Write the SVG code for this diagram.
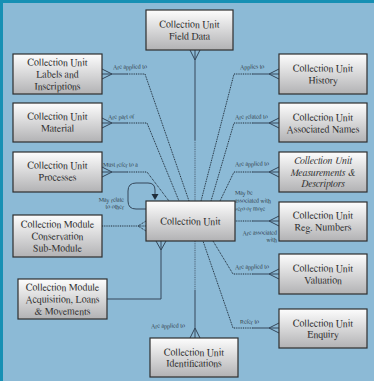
<svg xmlns="http://www.w3.org/2000/svg" width="374" height="381" viewBox="0 0 374 381">
  <defs>
    <linearGradient id="boxFill" x1="0" y1="0" x2="0" y2="1">
      <stop offset="0" stop-color="#fdfdfd"/>
      <stop offset="1" stop-color="#b2b2b4"/>
    </linearGradient>
    <style>
      text { font-family: FreeSerif, "Liberation Serif", "DejaVu Serif", serif; }
      .box { fill: url(#boxFill); stroke: #2e2e2e; stroke-width: 1.2; }
      .lbl { font-size: 10px; fill: #333; text-anchor: middle; }
      .it { font-style: italic; }
      .rel { font-size: 6px; fill: #2c3a48; }
      .solid { fill: none; stroke: #34475a; stroke-width: 1; }
      .dot { fill: none; stroke: #1f2d3a; stroke-width: 1; stroke-dasharray: 1 0.8; }
      .dotl { fill: none; stroke: #4a5f72; stroke-width: 1; stroke-dasharray: 1 0.8; }
    </style>
  </defs>

  <!-- frame -->
  <rect x="0" y="0" width="374" height="381" fill="#1690b4"/>
  <rect x="3" y="3" width="371" height="378" fill="#8cbad6"/>

  <!-- connectors -->
  <g id="connectors">
    <!-- Field Data to Collection Unit -->
    <path class="solid" d="M195,50 V140"/>
    <path class="dotl" d="M195,140 V201"/>
    <path class="solid" d="M190,50 L195,60 L200,50"/>

    <!-- Labels and Inscriptions -->
    <path class="solid" d="M102,74 H127 M102,69 L112,74 L102,79"/>
    <path class="dot" d="M127,74 H145 L189,201"/>
    <!-- Material -->
    <path class="solid" d="M102,123 H127 M102,118 L112,123 L102,128"/>
    <path class="dot" d="M127,123 H147 L179,201"/>
    <!-- Processes -->
    <path class="solid" d="M102,172 H127 M102,167 L112,172 L102,177"/>
    <path class="dot" d="M127,172 H147 L169,201"/>

    <!-- self relation -->
    <path class="solid" d="M146,209 H136 Q128,209 128,201 V191 Q128,183 136,183 H148 Q155,183 155,190 V194"/>
    <polygon points="151.5,194 158.5,194 155,200" fill="#1f2d3a"/>

    <!-- Conservation -->
    <path class="dot" d="M102,226 H146 M146,221 L138,226 L146,231"/>

    <!-- Acquisition, Loans & Movements -->
    <path class="solid" d="M107,299 H161 V241 M156,241 L161,250 L166,241"/>

    <!-- Identifications -->
    <path class="dotl" d="M195,241 V290"/>
    <path class="solid" d="M195,290 V338 M190,338 L195,328 L200,338"/>

    <!-- History -->
    <path class="solid" d="M279,74 H253 M279,69 L269,74 L279,79"/>
    <path class="dot" d="M253,74 H234 L201,201"/>
    <!-- Associated Names -->
    <path class="solid" d="M279,123 H253 M279,118 L269,123 L279,128"/>
    <path class="dot" d="M253,123 H234 L211,201"/>
    <!-- Measurements -->
    <path class="solid" d="M279,172 H253 M279,167 L269,172 L279,177"/>
    <path class="dot" d="M253,172 H234 L220,201"/>
    <!-- Reg. Numbers -->
    <path class="solid" d="M279,221 H253 M279,216 L269,221 L279,226"/>
    <path class="dot" d="M253,221 H235"/>
    <!-- Valuation -->
    <path class="solid" d="M279,274 H253 M279,269 L269,274 L279,279"/>
    <path class="dot" d="M253,274 H233 L213,241"/>
    <!-- Enquiry -->
    <path class="solid" d="M279,328 H253 M279,323 L269,328 L279,333"/>
    <path class="dot" d="M253,328 H233 L203,241"/>

    <!-- relation labels -->
    <text class="rel" x="113" y="69">Are applied to</text>
    <text class="rel" x="108" y="119">Are part of</text>
    <text class="rel" x="103" y="167">Must refer to a</text>
    <text class="rel" x="124" y="202" text-anchor="end">May relate</text>
    <text class="rel" x="124" y="209" text-anchor="end">to other</text>
    <text class="rel" x="240" y="69">Applies to</text>
    <text class="rel" x="235" y="119">Are related to</text>
    <text class="rel" x="235" y="166">Are applied to</text>
    <text class="rel" x="235" y="195">May be</text>
    <text class="rel" x="235" y="203">associated with</text>
    <text class="rel" x="235" y="211">zero or more</text>
    <text class="rel" x="277" y="235" text-anchor="end">Are associated</text>
    <text class="rel" x="277" y="242" text-anchor="end">with</text>
    <text class="rel" x="235" y="269">Are applied to</text>
    <text class="rel" x="240" y="324">Refer to</text>
    <text class="rel" x="151" y="328">Are applied to</text>
  </g>

  <!-- nodes -->
  <g id="field-data">
    <rect class="box" x="146" y="10" width="87" height="40"/>
    <text class="lbl" x="189.5" y="27.5">Collection Unit</text>
    <text class="lbl" x="189.5" y="39.5">Field Data</text>
  </g>
  <g id="labels-inscriptions">
    <rect class="box" x="13" y="54" width="89" height="40"/>
    <text class="lbl" x="57.5" y="65.5">Collection Unit</text>
    <text class="lbl" x="57.5" y="77.5">Labels and</text>
    <text class="lbl" x="57.5" y="89.5">Inscriptions</text>
  </g>
  <g id="material">
    <rect class="box" x="13" y="103" width="89" height="39"/>
    <text class="lbl" x="57.5" y="120">Collection Unit</text>
    <text class="lbl" x="57.5" y="132">Material</text>
  </g>
  <g id="processes">
    <rect class="box" x="13" y="152" width="89" height="40"/>
    <text class="lbl" x="57.5" y="168.5">Collection Unit</text>
    <text class="lbl" x="57.5" y="180.5">Processes</text>
  </g>
  <g id="conservation">
    <rect class="box" x="13" y="215" width="89" height="42"/>
    <text class="lbl" x="57.5" y="227.5">Collection Module</text>
    <text class="lbl" x="57.5" y="239.5">Conservation</text>
    <text class="lbl" x="57.5" y="251.5">Sub-Module</text>
  </g>
  <g id="acquisition">
    <rect class="box" x="18" y="279" width="89" height="40"/>
    <text class="lbl" x="62.5" y="290.5">Collection Module</text>
    <text class="lbl" x="62.5" y="302.5">Acquisition, Loans</text>
    <text class="lbl" x="62.5" y="314.5">&amp; Movements</text>
  </g>
  <g id="collection-unit">
    <rect class="box" x="146" y="201" width="89" height="40"/>
    <text class="lbl" x="190.5" y="225">Collection Unit</text>
  </g>
  <g id="identifications">
    <rect class="box" x="150" y="338" width="88" height="39"/>
    <text class="lbl" x="194" y="355.5">Collection Unit</text>
    <text class="lbl" x="194" y="366.5">Identifications</text>
  </g>
  <g id="history">
    <rect class="box" x="279" y="54" width="88" height="40"/>
    <text class="lbl" x="323" y="71.5">Collection Unit</text>
    <text class="lbl" x="323" y="83.5">History</text>
  </g>
  <g id="associated-names">
    <rect class="box" x="279" y="103" width="88" height="39"/>
    <text class="lbl" x="323" y="120.5">Collection Unit</text>
    <text class="lbl" x="323" y="132.5">Associated Names</text>
  </g>
  <g id="measurements">
    <rect class="box" x="279" y="152" width="88" height="40"/>
    <text class="lbl it" x="323" y="163.5">Collection Unit</text>
    <text class="lbl it" x="323" y="175.5">Measurements &amp;</text>
    <text class="lbl it" x="323" y="187">Descriptors</text>
  </g>
  <g id="reg-numbers">
    <rect class="box" x="279" y="202" width="88" height="39"/>
    <text class="lbl" x="323" y="218.5">Collection Unit</text>
    <text class="lbl" x="323" y="230.5">Reg. Numbers</text>
  </g>
  <g id="valuation">
    <rect class="box" x="279" y="254" width="88" height="40"/>
    <text class="lbl" x="323" y="271.5">Collection Unit</text>
    <text class="lbl" x="323" y="284">Valuation</text>
  </g>
  <g id="enquiry">
    <rect class="box" x="279" y="309" width="88" height="39"/>
    <text class="lbl" x="323" y="326.5">Collection Unit</text>
    <text class="lbl" x="323" y="337.5">Enquiry</text>
  </g>
</svg>
